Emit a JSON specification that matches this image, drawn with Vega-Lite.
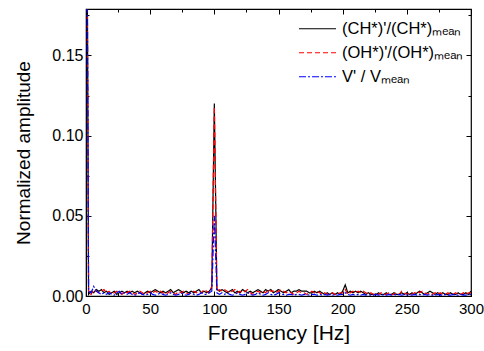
{
  "$schema": "https://vega.github.io/schema/vega-lite/v6.json",
  "autosize": {"type": "none"},
  "width": 385,
  "height": 287,
  "padding": {"left": 86, "top": 9, "right": 13, "bottom": 55},
  "background": "white",
  "config": {
    "view": {"stroke": "#000000", "strokeWidth": 1.2},
    "font": "Liberation Sans",
    "axis": {"grid": false, "domainColor": "#000000", "tickColor": "#000000", "labelColor": "#000000", "titleColor": "#000000", "labelFont": "Liberation Sans", "titleFont": "Liberation Sans", "titleFontWeight": "normal"}
  },
  "data": {"values": [
    {"f":0,"ch":0.4,"oh":0.4,"v":0.4},
    {"f":2,"ch":0.001,"oh":0.002,"v":0.003},
    {"f":4,"ch":0.003,"oh":0.001,"v":0.002},
    {"f":6,"ch":0.002,"oh":0.004,"v":0.006},
    {"f":8,"ch":0.004,"oh":0.003,"v":0.003},
    {"f":10,"ch":0.003,"oh":0.002,"v":0.002},
    {"f":12,"ch":0.004,"oh":0.003,"v":0.001},
    {"f":14,"ch":0.002,"oh":0.004,"v":0.002},
    {"f":16,"ch":0.003,"oh":0.002,"v":0.001},
    {"f":18,"ch":0.001,"oh":0.003,"v":0.002},
    {"f":20,"ch":0.002,"oh":0.001,"v":0.001},
    {"f":22,"ch":0.003,"oh":0.002,"v":0.0005},
    {"f":24,"ch":0.001,"oh":0.003,"v":0.002},
    {"f":26,"ch":0.002,"oh":0.002,"v":0.003},
    {"f":28,"ch":0.003,"oh":0.001,"v":0.001},
    {"f":30,"ch":0.002,"oh":0.003,"v":0.002},
    {"f":32,"ch":0.003,"oh":0.002,"v":0.001},
    {"f":34,"ch":0.002,"oh":0.003,"v":0.002},
    {"f":36,"ch":0.003,"oh":0.002,"v":0.001},
    {"f":38,"ch":0.002,"oh":0.001,"v":0.0005},
    {"f":40,"ch":0.003,"oh":0.002,"v":0.001},
    {"f":42,"ch":0.002,"oh":0.003,"v":0.002},
    {"f":44,"ch":0.001,"oh":0.002,"v":0.001},
    {"f":46,"ch":0.002,"oh":0.001,"v":0.0005},
    {"f":48,"ch":0.003,"oh":0.002,"v":0.001},
    {"f":50,"ch":0.002,"oh":0.003,"v":0.002},
    {"f":52,"ch":0.003,"oh":0.002,"v":0.001},
    {"f":54,"ch":0.004,"oh":0.003,"v":0.0005},
    {"f":56,"ch":0.003,"oh":0.002,"v":0.001},
    {"f":58,"ch":0.002,"oh":0.003,"v":0.002},
    {"f":60,"ch":0.003,"oh":0.002,"v":0.001},
    {"f":62,"ch":0.002,"oh":0.001,"v":0.0005},
    {"f":64,"ch":0.003,"oh":0.002,"v":0.001},
    {"f":66,"ch":0.004,"oh":0.003,"v":0.002},
    {"f":68,"ch":0.002,"oh":0.002,"v":0.001},
    {"f":70,"ch":0.003,"oh":0.001,"v":0.0005},
    {"f":72,"ch":0.004,"oh":0.003,"v":0.001},
    {"f":74,"ch":0.003,"oh":0.002,"v":0.002},
    {"f":76,"ch":0.002,"oh":0.003,"v":0.001},
    {"f":78,"ch":0.003,"oh":0.002,"v":0.0005},
    {"f":80,"ch":0.002,"oh":0.001,"v":0.001},
    {"f":82,"ch":0.003,"oh":0.002,"v":0.002},
    {"f":84,"ch":0.002,"oh":0.003,"v":0.001},
    {"f":86,"ch":0.003,"oh":0.002,"v":0.0005},
    {"f":88,"ch":0.004,"oh":0.003,"v":0.001},
    {"f":90,"ch":0.002,"oh":0.002,"v":0.002},
    {"f":92,"ch":0.003,"oh":0.004,"v":0.001},
    {"f":94,"ch":0.002,"oh":0.003,"v":0.001},
    {"f":96,"ch":0.003,"oh":0.002,"v":0.002},
    {"f":98,"ch":0.005,"oh":0.006,"v":0.003},
    {"f":100,"ch":0.12,"oh":0.118,"v":0.05},
    {"f":102,"ch":0.004,"oh":0.003,"v":0.002},
    {"f":104,"ch":0.003,"oh":0.004,"v":0.001},
    {"f":106,"ch":0.004,"oh":0.003,"v":0.002},
    {"f":108,"ch":0.003,"oh":0.004,"v":0.001},
    {"f":110,"ch":0.002,"oh":0.003,"v":0.002},
    {"f":112,"ch":0.003,"oh":0.002,"v":0.001},
    {"f":114,"ch":0.004,"oh":0.003,"v":0.0005},
    {"f":116,"ch":0.002,"oh":0.004,"v":0.001},
    {"f":118,"ch":0.003,"oh":0.002,"v":0.002},
    {"f":120,"ch":0.002,"oh":0.003,"v":0.001},
    {"f":122,"ch":0.004,"oh":0.002,"v":0.0005},
    {"f":124,"ch":0.003,"oh":0.003,"v":0.001},
    {"f":126,"ch":0.002,"oh":0.004,"v":0.002},
    {"f":128,"ch":0.003,"oh":0.002,"v":0.001},
    {"f":130,"ch":0.002,"oh":0.001,"v":0.0005},
    {"f":132,"ch":0.003,"oh":0.002,"v":0.001},
    {"f":134,"ch":0.004,"oh":0.003,"v":0.002},
    {"f":136,"ch":0.003,"oh":0.002,"v":0.001},
    {"f":138,"ch":0.002,"oh":0.003,"v":0.0005},
    {"f":140,"ch":0.004,"oh":0.002,"v":0.001},
    {"f":142,"ch":0.003,"oh":0.004,"v":0.002},
    {"f":144,"ch":0.004,"oh":0.003,"v":0.001},
    {"f":146,"ch":0.002,"oh":0.003,"v":0.0005},
    {"f":148,"ch":0.003,"oh":0.002,"v":0.001},
    {"f":150,"ch":0.004,"oh":0.003,"v":0.002},
    {"f":152,"ch":0.003,"oh":0.004,"v":0.001},
    {"f":154,"ch":0.002,"oh":0.003,"v":0.001},
    {"f":156,"ch":0.003,"oh":0.002,"v":0.0005},
    {"f":158,"ch":0.004,"oh":0.003,"v":0.001},
    {"f":160,"ch":0.002,"oh":0.002,"v":0.001},
    {"f":162,"ch":0.003,"oh":0.001,"v":0.0005},
    {"f":164,"ch":0.003,"oh":0.002,"v":0.001},
    {"f":166,"ch":0.004,"oh":0.003,"v":0.001},
    {"f":168,"ch":0.003,"oh":0.002,"v":0.0005},
    {"f":170,"ch":0.003,"oh":0.002,"v":0.001},
    {"f":172,"ch":0.003,"oh":0.001,"v":0.001},
    {"f":174,"ch":0.002,"oh":0.002,"v":0.0005},
    {"f":176,"ch":0.002,"oh":0.003,"v":0.001},
    {"f":178,"ch":0.003,"oh":0.002,"v":0.001},
    {"f":180,"ch":0.002,"oh":0.003,"v":0.0005},
    {"f":182,"ch":0.003,"oh":0.002,"v":0.001},
    {"f":184,"ch":0.002,"oh":0.001,"v":0.0005},
    {"f":186,"ch":0.001,"oh":0.002,"v":0.001},
    {"f":188,"ch":0.002,"oh":0.001,"v":0.0005},
    {"f":190,"ch":0.001,"oh":0.001,"v":0.001},
    {"f":192,"ch":0.002,"oh":0.002,"v":0.0005},
    {"f":194,"ch":0.001,"oh":0.001,"v":0.001},
    {"f":196,"ch":0.002,"oh":0.001,"v":0.0005},
    {"f":198,"ch":0.001,"oh":0.002,"v":0.001},
    {"f":200,"ch":0.003,"oh":0.002,"v":0.001},
    {"f":202,"ch":0.007,"oh":0.004,"v":0.002},
    {"f":204,"ch":0.002,"oh":0.001,"v":0.001},
    {"f":206,"ch":0.003,"oh":0.002,"v":0.0005},
    {"f":208,"ch":0.002,"oh":0.003,"v":0.001},
    {"f":210,"ch":0.003,"oh":0.002,"v":0.0005},
    {"f":212,"ch":0.002,"oh":0.003,"v":0.001},
    {"f":214,"ch":0.003,"oh":0.002,"v":0.0005},
    {"f":216,"ch":0.002,"oh":0.003,"v":0.001},
    {"f":218,"ch":0.001,"oh":0.002,"v":0.0005},
    {"f":220,"ch":0.002,"oh":0.001,"v":0.001},
    {"f":222,"ch":0.001,"oh":0.002,"v":0.0005},
    {"f":224,"ch":0.001,"oh":0.001,"v":0.0005},
    {"f":226,"ch":0.001,"oh":0.001,"v":0.001},
    {"f":228,"ch":0.002,"oh":0.001,"v":0.0005},
    {"f":230,"ch":0.001,"oh":0.002,"v":0.001},
    {"f":232,"ch":0.001,"oh":0.001,"v":0.0005},
    {"f":234,"ch":0.002,"oh":0.001,"v":0.0005},
    {"f":236,"ch":0.001,"oh":0.002,"v":0.001},
    {"f":238,"ch":0.001,"oh":0.001,"v":0.0005},
    {"f":240,"ch":0.002,"oh":0.001,"v":0.001},
    {"f":242,"ch":0.001,"oh":0.002,"v":0.0005},
    {"f":244,"ch":0.001,"oh":0.001,"v":0.001},
    {"f":246,"ch":0.002,"oh":0.003,"v":0.0005},
    {"f":248,"ch":0.001,"oh":0.002,"v":0.001},
    {"f":250,"ch":0.002,"oh":0.001,"v":0.0005},
    {"f":252,"ch":0.001,"oh":0.002,"v":0.001},
    {"f":254,"ch":0.002,"oh":0.001,"v":0.0005},
    {"f":256,"ch":0.001,"oh":0.002,"v":0.001},
    {"f":258,"ch":0.002,"oh":0.003,"v":0.0005},
    {"f":260,"ch":0.003,"oh":0.002,"v":0.001},
    {"f":262,"ch":0.002,"oh":0.003,"v":0.0005},
    {"f":264,"ch":0.001,"oh":0.002,"v":0.001},
    {"f":266,"ch":0.002,"oh":0.001,"v":0.0005},
    {"f":268,"ch":0.003,"oh":0.002,"v":0.001},
    {"f":270,"ch":0.002,"oh":0.001,"v":0.0005},
    {"f":272,"ch":0.001,"oh":0.002,"v":0.0005},
    {"f":274,"ch":0.002,"oh":0.001,"v":0.001},
    {"f":276,"ch":0.001,"oh":0.002,"v":0.0005},
    {"f":278,"ch":0.002,"oh":0.001,"v":0.0005},
    {"f":280,"ch":0.001,"oh":0.001,"v":0.001},
    {"f":282,"ch":0.001,"oh":0.002,"v":0.0005},
    {"f":284,"ch":0.002,"oh":0.001,"v":0.0005},
    {"f":286,"ch":0.001,"oh":0.001,"v":0.001},
    {"f":288,"ch":0.001,"oh":0.002,"v":0.0005},
    {"f":290,"ch":0.002,"oh":0.001,"v":0.0005},
    {"f":292,"ch":0.001,"oh":0.001,"v":0.001},
    {"f":294,"ch":0.001,"oh":0.002,"v":0.0005},
    {"f":296,"ch":0.002,"oh":0.001,"v":0.0005},
    {"f":298,"ch":0.001,"oh":0.002,"v":0.001},
    {"f":300,"ch":0.003,"oh":0.002,"v":0.001}
  ]},
  "transform": [{"fold": ["ch", "oh", "v"], "as": ["series", "a"]}],
  "resolve": {"axis": {"x": "independent", "y": "independent"}},
  "layer": [
    {
      "mark": {"type": "line", "clip": true, "strokeWidth": 1.2},
      "encoding": {
        "x": {"field": "f", "type": "quantitative", "scale": {"domain": [0, 300], "nice": false},
              "axis": {"orient": "bottom", "values": [0, 50, 100, 150, 200, 250, 300], "tickSize": -5, "labelPadding": 10, "labelFontSize": 15, "title": "Frequency [Hz]", "titleFontSize": 21, "titlePadding": 6, "labelFlush": false}},
        "y": {"field": "a", "type": "quantitative", "scale": {"domain": [0, 0.179], "nice": false, "zero": true},
              "axis": {"orient": "left", "values": [0, 0.05, 0.1, 0.15], "format": ".2f", "tickSize": -5, "labelPadding": 8, "labelFontSize": 16, "title": "Normalized amplitude", "titleFontSize": 19, "titlePadding": 18}},
        "color": {"field": "series", "type": "nominal",
                  "scale": {"domain": ["ch", "oh", "v"], "range": ["#000000", "#ff0000", "#0000ff"]},
                  "legend": {"title": null, "orient": "none", "legendX": 212, "legendY": 8, "symbolType": "stroke", "symbolSize": 1369, "symbolStrokeWidth": 1.2, "labelFontSize": 16.5, "labelFont": "Liberation Sans", "labelColor": "#000000", "rowPadding": 0, "clipHeight": 23.5, "labelOffset": 5,
                             "labelExpr": "datum.value == 'ch' ? \"(CH*)'/(CH*)ₘₑₐₙ\" : datum.value == 'oh' ? \"(OH*)'/(OH*)ₘₑₐₙ\" : \"V' / Vₘₑₐₙ\""}},
        "strokeDash": {"field": "series", "type": "nominal",
                       "scale": {"domain": ["ch", "oh", "v"], "range": [[1, 0], [5, 3], [7, 2, 2, 2]]},
                       "legend": {"title": null, "orient": "none", "legendX": 212, "legendY": 8, "symbolType": "stroke", "symbolSize": 1369, "symbolStrokeWidth": 1.2, "labelFontSize": 16.5, "labelFont": "Liberation Sans", "labelColor": "#000000", "rowPadding": 0, "clipHeight": 23.5, "labelOffset": 5,
                                  "labelExpr": "datum.value == 'ch' ? \"(CH*)'/(CH*)ₘₑₐₙ\" : datum.value == 'oh' ? \"(OH*)'/(OH*)ₘₑₐₙ\" : \"V' / Vₘₑₐₙ\""}}
      }
    },
    {
      "mark": {"type": "point", "opacity": 0},
      "encoding": {
        "x": {"field": "f", "type": "quantitative", "axis": {"orient": "bottom", "values": [25, 75, 125, 175, 225, 275], "tickSize": -3, "labels": false, "domain": false, "title": null}},
        "y": {"field": "a", "type": "quantitative", "axis": {"orient": "left", "values": [0.025, 0.075, 0.125, 0.175], "tickSize": -3, "labels": false, "domain": false, "title": null}}
      }
    },
    {
      "mark": {"type": "point", "opacity": 0},
      "encoding": {
        "x": {"field": "f", "type": "quantitative", "axis": {"orient": "top", "values": [0, 50, 100, 150, 200, 250, 300], "tickSize": -5, "labels": false, "domain": false, "title": null}},
        "y": {"field": "a", "type": "quantitative", "axis": {"orient": "right", "values": [0, 0.05, 0.1, 0.15], "tickSize": -5, "labels": false, "domain": false, "title": null}}
      }
    },
    {
      "mark": {"type": "point", "opacity": 0},
      "encoding": {
        "x": {"field": "f", "type": "quantitative", "axis": {"orient": "top", "values": [25, 75, 125, 175, 225, 275], "tickSize": -3, "labels": false, "domain": false, "title": null}},
        "y": {"field": "a", "type": "quantitative", "axis": {"orient": "right", "values": [0.025, 0.075, 0.125, 0.175], "tickSize": -3, "labels": false, "domain": false, "title": null}}
      }
    }
  ]
}
